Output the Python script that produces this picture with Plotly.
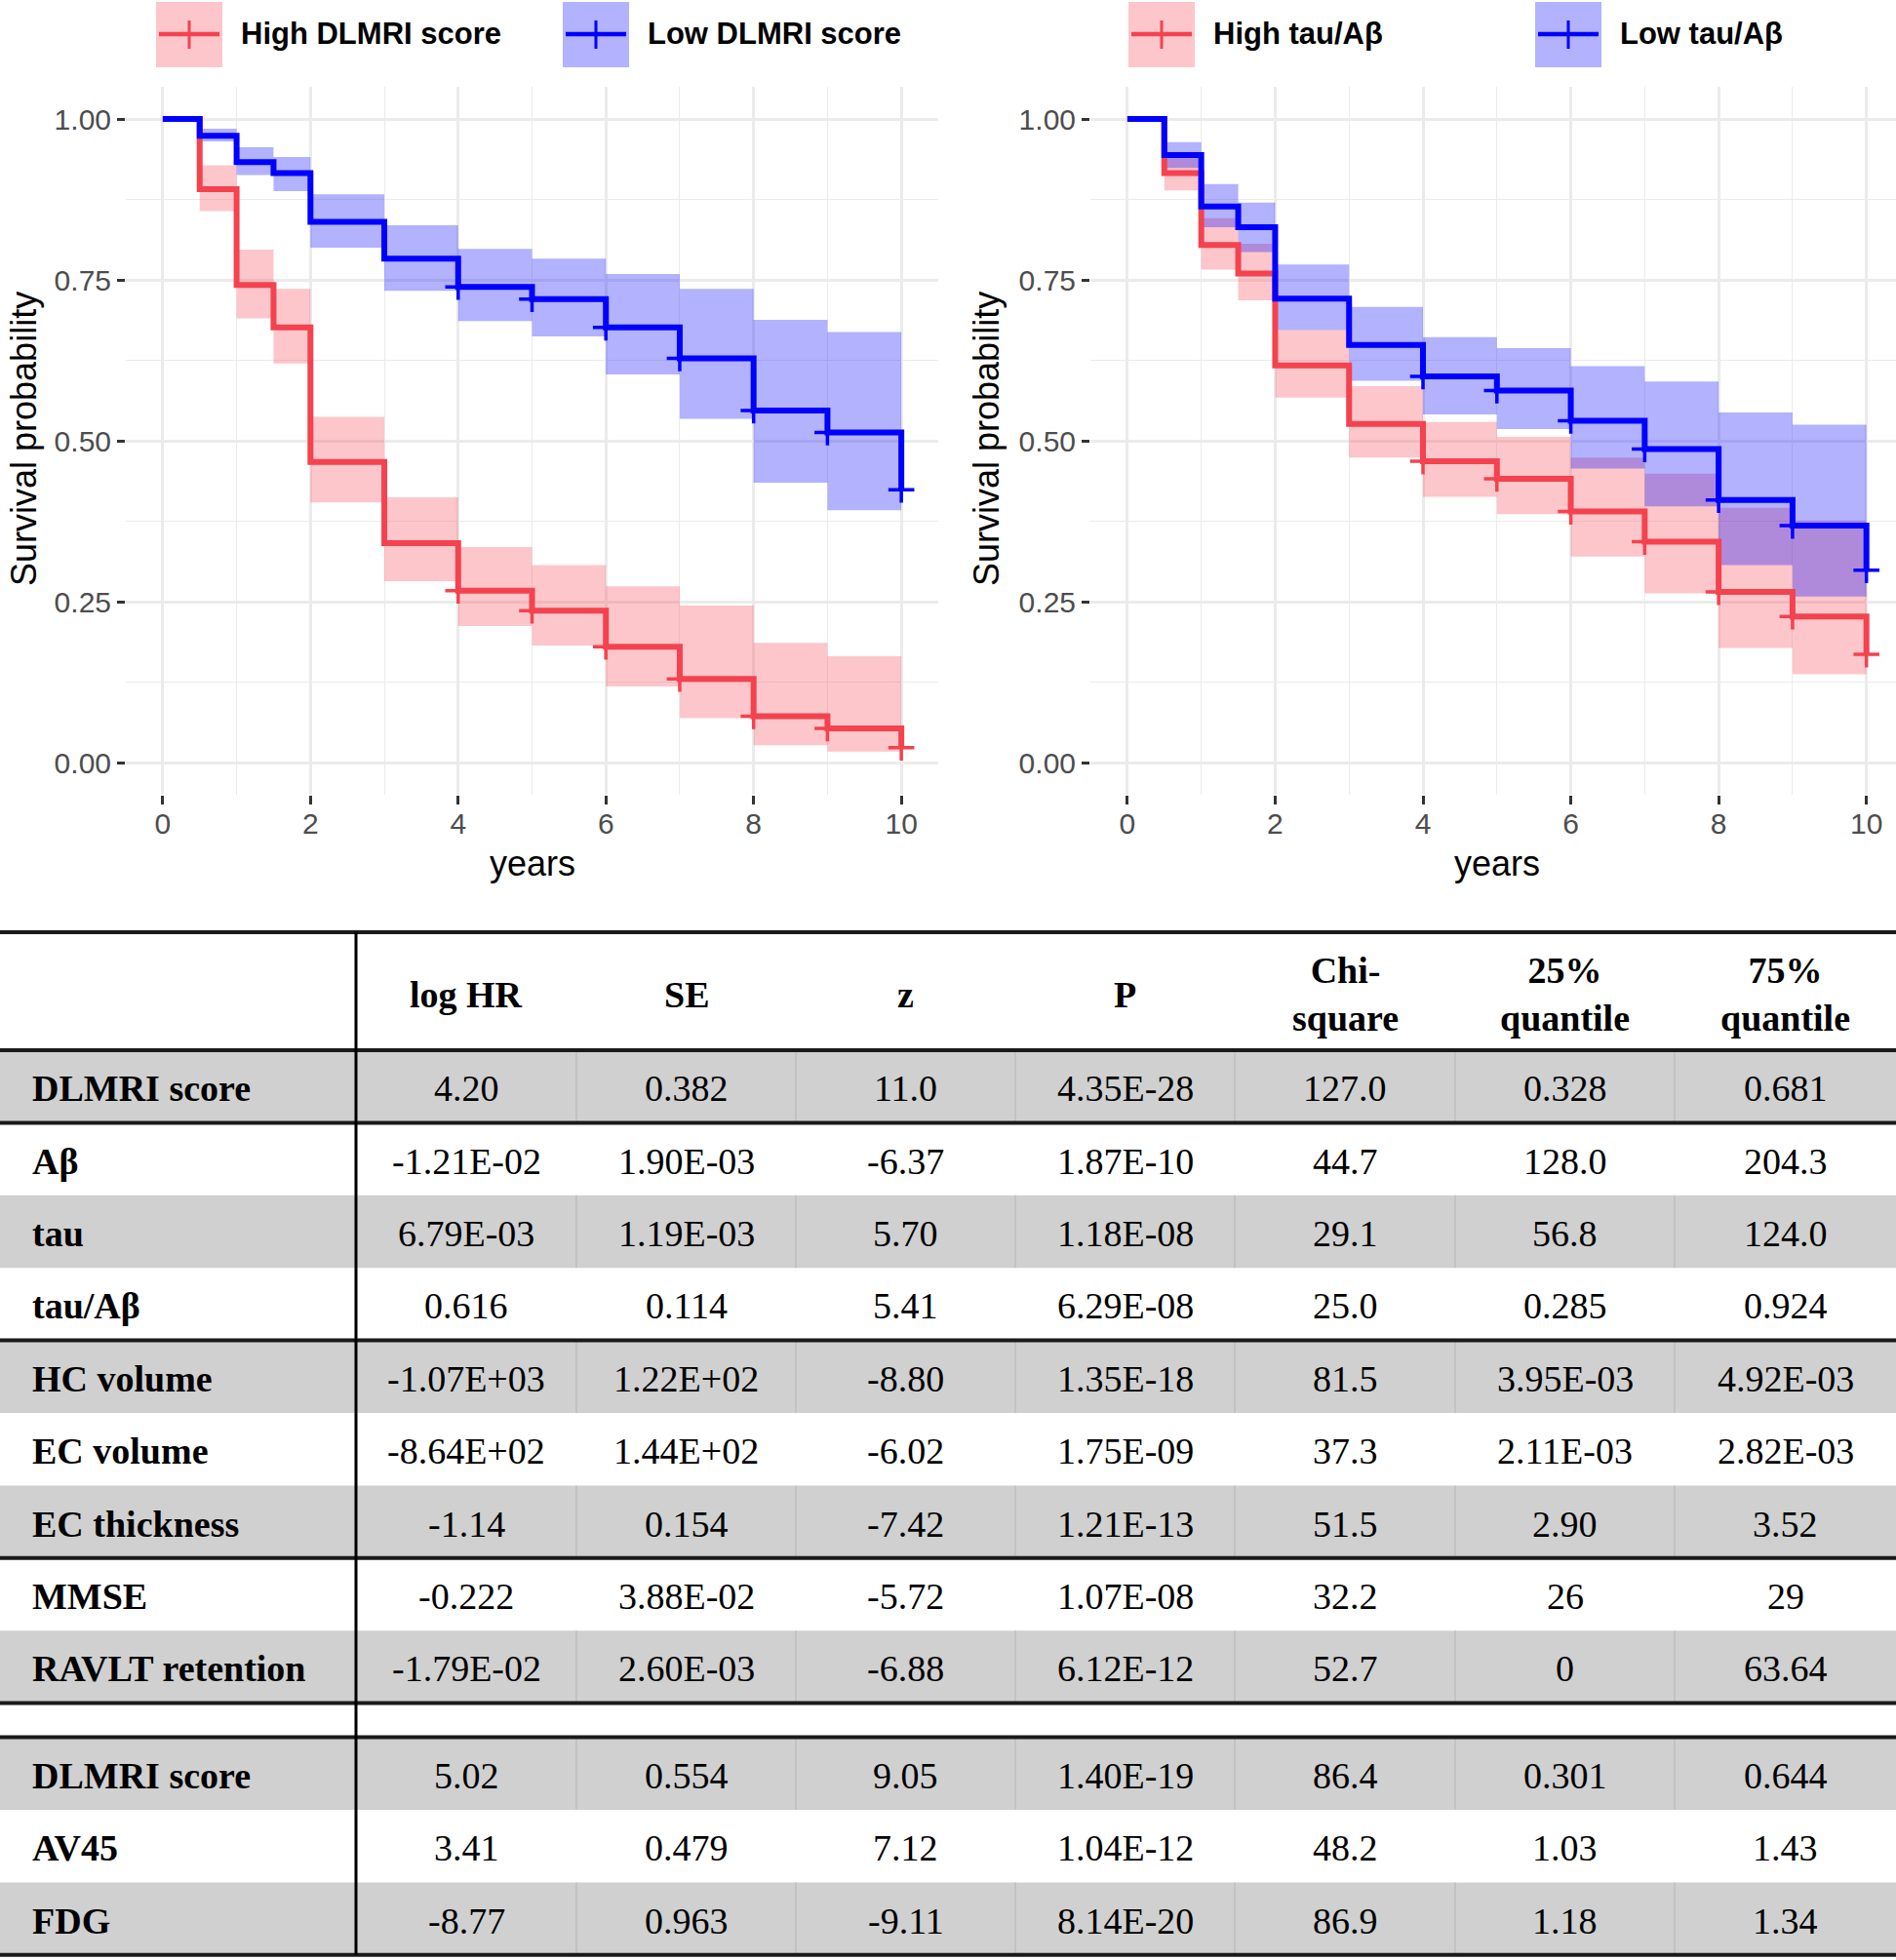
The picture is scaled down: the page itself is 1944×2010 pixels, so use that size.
import plotly.graph_objects as go

W, H = 1944, 2010

# ---------------------------------------------------------------------------
# Kaplan-Meier data (survival from each time onward, 95% band)
# ---------------------------------------------------------------------------
YEARS = [0, 0.5, 1, 1.5, 2, 3, 4, 5, 6, 7, 8, 9, 10]
CENSOR_YEARS = [4, 5, 6, 7, 8, 9, 10]

# left panel: DLMRI score
dl_high_surv = [1.0, 0.891, 0.742, 0.676, 0.467, 0.341, 0.267, 0.236, 0.180, 0.130, 0.072, 0.053, 0.023]
dl_high_hi = [1.0, 0.928, 0.797, 0.736, 0.537, 0.412, 0.335, 0.307, 0.274, 0.244, 0.186, 0.165, 0.023]
dl_high_lo = [1.0, 0.857, 0.690, 0.620, 0.404, 0.282, 0.212, 0.182, 0.118, 0.069, 0.027, 0.017, 0.023]
dl_low_surv = [1.0, 0.974, 0.933, 0.916, 0.840, 0.783, 0.739, 0.720, 0.676, 0.628, 0.547, 0.513, 0.424]
dl_low_hi = [1.0, 0.985, 0.956, 0.941, 0.883, 0.835, 0.798, 0.783, 0.759, 0.736, 0.688, 0.669, 0.424]
dl_low_lo = [1.0, 0.965, 0.913, 0.888, 0.800, 0.733, 0.686, 0.662, 0.603, 0.534, 0.435, 0.392, 0.424]

# right panel: tau/Abeta
ta_high_surv = [1.0, 0.916, 0.804, 0.760, 0.617, 0.526, 0.468, 0.441, 0.390, 0.343, 0.265, 0.227, 0.168]
ta_high_hi = [1.0, 0.940, 0.846, 0.806, 0.672, 0.585, 0.529, 0.506, 0.474, 0.449, 0.396, 0.376, 0.168]
ta_high_lo = [1.0, 0.889, 0.766, 0.718, 0.567, 0.474, 0.413, 0.386, 0.320, 0.263, 0.178, 0.137, 0.168]
ta_low_surv = [1.0, 0.944, 0.864, 0.832, 0.721, 0.649, 0.600, 0.578, 0.531, 0.487, 0.408, 0.368, 0.299]
ta_low_hi = [1.0, 0.964, 0.899, 0.870, 0.774, 0.708, 0.661, 0.644, 0.616, 0.592, 0.544, 0.525, 0.299]
ta_low_lo = [1.0, 0.924, 0.832, 0.793, 0.672, 0.593, 0.541, 0.518, 0.457, 0.398, 0.307, 0.258, 0.299]

LEGEND_LEFT = ["High DLMRI score", "Low DLMRI score"]
LEGEND_RIGHT = ["High tau/Aβ", "Low tau/Aβ"]

X_TICKS = [0, 2, 4, 6, 8, 10]
Y_TICKS = [0, 0.25, 0.5, 0.75, 1.0]
Y_TICK_TEXT = ["0.00", "0.25", "0.50", "0.75", "1.00"]

# ---------------------------------------------------------------------------
# Cox table
# ---------------------------------------------------------------------------
TABLE_HEADER = ["log HR", "SE", "z", "P", "Chi-<br>square", "25%<br>quantile", "75%<br>quantile"]
ROW_LABELS = ["DLMRI score", "Aβ", "tau", "tau/Aβ", "HC volume", "EC volume", "EC thickness",
              "MMSE", "RAVLT retention", "", "DLMRI score", "AV45", "FDG"]
LOG_HR = ["4.20", "-1.21E-02", "6.79E-03", "0.616", "-1.07E+03", "-8.64E+02", "-1.14",
          "-0.222", "-1.79E-02", "", "5.02", "3.41", "-8.77"]
SE = ["0.382", "1.90E-03", "1.19E-03", "0.114", "1.22E+02", "1.44E+02", "0.154",
      "3.88E-02", "2.60E-03", "", "0.554", "0.479", "0.963"]
Z = ["11.0", "-6.37", "5.70", "5.41", "-8.80", "-6.02", "-7.42", "-5.72", "-6.88", "", "9.05", "7.12", "-9.11"]
P = ["4.35E-28", "1.87E-10", "1.18E-08", "6.29E-08", "1.35E-18", "1.75E-09", "1.21E-13",
     "1.07E-08", "6.12E-12", "", "1.40E-19", "1.04E-12", "8.14E-20"]
CHI = ["127.0", "44.7", "29.1", "25.0", "81.5", "37.3", "51.5", "32.2", "52.7", "", "86.4", "48.2", "86.9"]
Q25 = ["0.328", "128.0", "56.8", "0.285", "3.95E-03", "2.11E-03", "2.90", "26", "0", "", "0.301", "1.03", "1.18"]
Q75 = ["0.681", "204.3", "124.0", "0.924", "4.92E-03", "2.82E-03", "3.52", "29", "63.64", "", "0.644", "1.43", "1.34"]
SHADED = [True, False, True, False, True, False, True, False, True, False, True, False, True]
THICK_AFTER = [0, 3, 6, 8, 9, 12]

# ---------------------------------------------------------------------------
# Styling
# ---------------------------------------------------------------------------
RED = "#F4424F"
BLUE = "#0000FF"
RED_FILL = "rgba(244,66,79,0.30)"
BLUE_FILL = "rgba(0,0,255,0.30)"
GRID = "#EBEBEB"
SANS = "Liberation Sans, Arial, sans-serif"
SERIF = "Liberation Serif, Times New Roman, serif"
GRAY_ROW = "#D0D0D0"

# pixel layout
PANEL_TOP, PANEL_BOT = 89, 815
LEFT_PANEL = (129, 962)
RIGHT_PANEL = (1118, 1944)
COL_EDGES = [0, 365, 591, 816, 1041, 1266, 1492, 1717, 1944]
TABLE_TOP, HEADER_BOT = 956, 1077
ROW_H, BLANK_H = 74.4, 35


def px(x):
    return x / W


def py(y):
    return 1 - y / H


def label(text, x, y, size, family=SANS, xanchor="center", angle=0):
    return dict(text=text, x=px(x), y=py(y), xref="paper", yref="paper", xanchor=xanchor,
                yanchor="middle", textangle=angle, showarrow=False,
                font=dict(family=family, size=size, color="black"))


fig = go.Figure()


def add_band(lo, hi, fill, xa, ya):
    fig.add_trace(go.Scatter(x=YEARS, y=hi, mode="lines", line=dict(width=0, shape="hv"),
                             xaxis=xa, yaxis=ya, showlegend=False, hoverinfo="skip"))
    fig.add_trace(go.Scatter(x=YEARS, y=lo, mode="lines", line=dict(width=0, shape="hv"),
                             fill="tonexty", fillcolor=fill,
                             xaxis=xa, yaxis=ya, showlegend=False, hoverinfo="skip"))


def add_curve(surv, color, xa, ya):
    fig.add_trace(go.Scatter(x=YEARS, y=surv, mode="lines", line=dict(width=6, color=color, shape="hv"),
                             xaxis=xa, yaxis=ya, showlegend=False))
    cy = [surv[YEARS.index(t)] for t in CENSOR_YEARS]
    fig.add_trace(go.Scatter(x=CENSOR_YEARS, y=cy, mode="markers",
                             marker=dict(symbol="cross-thin", size=19, line=dict(width=3.5, color=color)),
                             xaxis=xa, yaxis=ya, showlegend=False))


for (hs, hh, hl, ls, lh, ll, xa, ya) in [
    (dl_high_surv, dl_high_hi, dl_high_lo, dl_low_surv, dl_low_hi, dl_low_lo, "x", "y"),
    (ta_high_surv, ta_high_hi, ta_high_lo, ta_low_surv, ta_low_hi, ta_low_lo, "x2", "y2"),
]:
    add_band(hl, hh, RED_FILL, xa, ya)
    add_band(ll, lh, BLUE_FILL, xa, ya)
    add_curve(hs, RED, xa, ya)
    add_curve(ls, BLUE, xa, ya)


def xaxis_style(domain, rng, anchor):
    return dict(domain=domain, range=rng, anchor=anchor, tickvals=X_TICKS,
                showgrid=True, gridcolor=GRID, gridwidth=2.5,
                minor=dict(dtick=1, tick0=0, showgrid=True, gridcolor=GRID, gridwidth=1.3),
                ticks="outside", ticklen=9, tickwidth=3, tickcolor="#333333", ticklabelstandoff=-6,
                tickfont=dict(family=SANS, size=30, color="#4D4D4D"),
                zeroline=False, showline=False)


def yaxis_style(anchor):
    return dict(domain=[py(PANEL_BOT), py(PANEL_TOP)], range=[-0.05, 1.05], anchor=anchor,
                tickvals=Y_TICKS, ticktext=Y_TICK_TEXT, showgrid=True, gridcolor=GRID, gridwidth=2.5,
                minor=dict(dtick=0.125, tick0=0, showgrid=True, gridcolor=GRID, gridwidth=1.3),
                ticks="outside", ticklen=8, tickwidth=3, tickcolor="#333333",
                tickfont=dict(family=SANS, size=30, color="#4D4D4D"),
                zeroline=False, showline=False)


shapes = []
annotations = []

# axis titles
for cx, yx in [(546, 25), (1535, 1012)]:
    annotations.append(label("years", cx, 885, 36))
    annotations.append(label("Survival probability", yx, 450, 36, angle=-90))

# legend keys
for x0, text, color, fill in [(160, LEGEND_LEFT[0], RED, RED_FILL), (577, LEGEND_LEFT[1], BLUE, BLUE_FILL),
                              (1157, LEGEND_RIGHT[0], RED, RED_FILL), (1574, LEGEND_RIGHT[1], BLUE, BLUE_FILL)]:
    shapes.append(dict(type="rect", xref="paper", yref="paper", x0=px(x0), x1=px(x0 + 68),
                       y0=py(69), y1=py(2), fillcolor=fill, line=dict(width=0), layer="below"))
    shapes.append(dict(type="line", xref="paper", yref="paper", x0=px(x0 + 3), x1=px(x0 + 65),
                       y0=py(35), y1=py(35), line=dict(color=color, width=4.5)))
    shapes.append(dict(type="line", xref="paper", yref="paper", x0=px(x0 + 34), x1=px(x0 + 34),
                       y0=py(21), y1=py(50), line=dict(color=color, width=3)))
    annotations.append(label(f"<b>{text}</b>", x0 + 85, 35, 31, xanchor="left"))

# ---------------------------------------------------------------------------
# Table
# ---------------------------------------------------------------------------
row_tops = []
y = HEADER_BOT
for lab in ROW_LABELS:
    h = BLANK_H if lab == "" else ROW_H
    row_tops.append((y, y + h))
    y += h

columns = [LOG_HR, SE, Z, P, CHI, Q25, Q75]

for i, (y0, y1) in enumerate(row_tops):
    if SHADED[i]:
        shapes.append(dict(type="rect", xref="paper", yref="paper", x0=0, x1=1, y0=py(y1), y1=py(y0),
                           fillcolor=GRAY_ROW, line=dict(width=0), layer="below"))
        for ex in COL_EDGES[2:-1]:
            shapes.append(dict(type="line", xref="paper", yref="paper", x0=px(ex), x1=px(ex),
                               y0=py(y1), y1=py(y0), line=dict(color="#B5B5B5", width=1)))
    yc = (y0 + y1) / 2 + 2
    if ROW_LABELS[i]:
        annotations.append(label(f"<b>{ROW_LABELS[i]}</b>", 31, yc, 38, family=SERIF, xanchor="left"))
    for j, col in enumerate(columns):
        if col[i]:
            cx = (COL_EDGES[j + 1] + COL_EDGES[j + 2]) / 2
            annotations.append(label(col[i], cx, yc, 38, family=SERIF))

for j, head in enumerate(TABLE_HEADER):
    cx = (COL_EDGES[j + 1] + COL_EDGES[j + 2]) / 2
    annotations.append(label(f"<b>{head}</b>", cx, (TABLE_TOP + HEADER_BOT) / 2 + 3, 38, family=SERIF))

thick_ys = [TABLE_TOP, HEADER_BOT] + [row_tops[k][1] for k in THICK_AFTER]
for ty in thick_ys:
    shapes.append(dict(type="line", xref="paper", yref="paper", x0=0, x1=1, y0=py(ty), y1=py(ty),
                       line=dict(color="#1A1A1A", width=4)))
shapes.append(dict(type="line", xref="paper", yref="paper", x0=px(365), x1=px(365),
                   y0=py(row_tops[-1][1]), y1=py(TABLE_TOP), line=dict(color="black", width=3)))

fig.update_layout(
    width=W, height=H,
    margin=dict(l=0, r=0, t=0, b=0),
    paper_bgcolor="white", plot_bgcolor="white",
    showlegend=False,
    xaxis=xaxis_style([px(LEFT_PANEL[0]), px(LEFT_PANEL[1])], [-0.5, 10.5], "y"),
    yaxis=yaxis_style("x"),
    xaxis2=xaxis_style([px(RIGHT_PANEL[0]), px(RIGHT_PANEL[1])], [-0.5, 10.4], "y2"),
    yaxis2=yaxis_style("x2"),
    shapes=shapes,
    annotations=annotations,
)

# drop the page's default body margin so the figure sits at the window origin
fig.write_html("out.html", config={"displayModeBar": False},
               post_script="document.body.style.margin='0px';")
